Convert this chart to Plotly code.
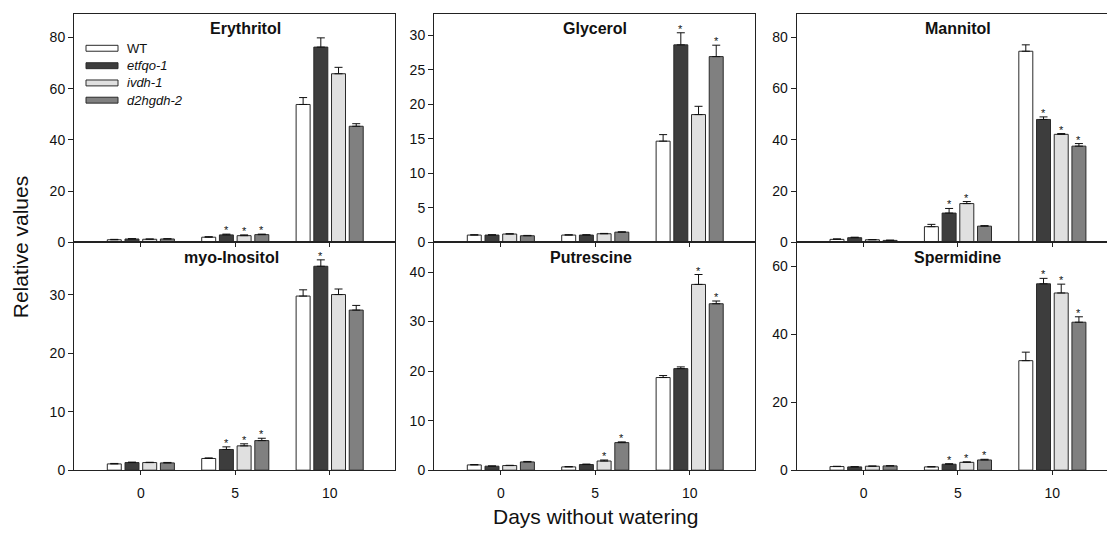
import plotly.graph_objects as go

# ---------------- data ----------------
days = [0, 5, 10]
genotypes = ["WT", "etfqo-1", "ivdh-1", "d2hgdh-2"]
legend_labels = ["WT", "<i>etfqo-1</i>", "<i>ivdh-1</i>", "<i>d2hgdh-2</i>"]
metabolites = ["Erythritol", "Glycerol", "Mannitol", "myo-Inositol", "Putrescine", "Spermidine"]

# means per genotype (WT, etfqo-1, ivdh-1, d2hgdh-2), each over days 0, 5, 10
erythritol_mean = [[1.0, 2.0, 53.8], [1.3, 2.9, 76.2], [1.2, 2.6, 65.8], [1.3, 3.0, 45.3]]
erythritol_err = [[0.15, 0.2, 2.7], [0.15, 0.3, 3.6], [0.1, 0.3, 2.5], [0.1, 0.2, 1.0]]
erythritol_sig = [[0, 0, 0], [0, 1, 0], [0, 1, 0], [0, 1, 0]]

glycerol_mean = [[1.05, 1.05, 14.65], [1.05, 1.05, 28.6], [1.2, 1.24, 18.5], [0.95, 1.47, 26.9]]
glycerol_err = [[0.05, 0.05, 0.95], [0.05, 0.05, 1.75], [0.05, 0.05, 1.2], [0.05, 0.05, 1.65]]
glycerol_sig = [[0, 0, 0], [0, 0, 1], [0, 0, 0], [0, 0, 1]]

mannitol_mean = [[1.15, 6.1, 74.5], [1.8, 11.4, 47.9], [1.0, 15.1, 42.1], [0.75, 6.3, 37.5]]
mannitol_err = [[0.2, 0.9, 2.5], [0.2, 1.8, 1.0], [0.1, 0.8, 0.3], [0.1, 0.2, 1.0]]
mannitol_sig = [[0, 0, 0], [0, 1, 1], [0, 1, 1], [0, 0, 1]]

inositol_mean = [[1.07, 2.0, 29.8], [1.3, 3.54, 34.9], [1.3, 4.16, 30.06], [1.24, 5.06, 27.4]]
inositol_err = [[0.08, 0.1, 1.07], [0.08, 0.45, 1.1], [0.05, 0.35, 0.95], [0.08, 0.4, 0.8]]
inositol_sig = [[0, 0, 0], [0, 1, 1], [0, 1, 0], [0, 1, 0]]

putrescine_mean = [[1.06, 0.66, 18.7], [0.8, 1.13, 20.5], [0.93, 1.85, 37.5], [1.66, 5.56, 33.6]]
putrescine_err = [[0.08, 0.08, 0.4], [0.05, 0.1, 0.35], [0.05, 0.2, 2.0], [0.1, 0.15, 0.55]]
putrescine_sig = [[0, 0, 0], [0, 0, 0], [0, 1, 1], [0, 1, 1]]

spermidine_mean = [[1.06, 0.96, 32.2], [0.96, 1.74, 54.8], [1.16, 2.3, 52.1], [1.25, 3.0, 43.5]]
spermidine_err = [[0.08, 0.08, 2.5], [0.06, 0.15, 1.6], [0.05, 0.15, 2.6], [0.05, 0.2, 1.6]]
spermidine_sig = [[0, 0, 0], [0, 1, 1], [0, 1, 1], [0, 1, 1]]

means = [erythritol_mean, glycerol_mean, mannitol_mean, inositol_mean, putrescine_mean, spermidine_mean]
errs = [erythritol_err, glycerol_err, mannitol_err, inositol_err, putrescine_err, spermidine_err]
sigs = [erythritol_sig, glycerol_sig, mannitol_sig, inositol_sig, putrescine_sig, spermidine_sig]

y_ticks = [[0, 20, 40, 60, 80], [0, 5, 10, 15, 20, 25, 30], [0, 20, 40, 60, 80],
           [0, 10, 20, 30], [0, 10, 20, 30, 40], [0, 20, 40, 60]]
x_tick_labels = ["0", "5", "10"]

# ---------------- style / layout ----------------
W, H = 1107, 535
FONT = "Liberation Sans, Arial, Helvetica, sans-serif"
fills = ["#ffffff", "#3d3d3d", "#e0e0e0", "#808080"]
edge = "#2a2a2a"
BARGAP, BARGROUPGAP = 0.25, 0.21

y_max = [89.2, 33.1, 89.1, 39.0, 46.0, 67.0]
col_px = [(74, 395), (434, 755), (796.7, 1117.7)]
row_px = [(14, 246), (246, 477.3)]
x_lo = -3.54
units_per_px = 17.0 / 321.0
title_x = [5.55, 5, 5, 4.8, 4.8, 5]

fig = go.Figure()
layout = dict(
    width=W, height=H, margin=dict(l=0, r=0, t=0, b=0),
    paper_bgcolor="white", plot_bgcolor="white",
    barmode="group", bargap=BARGAP, bargroupgap=BARGROUPGAP,
    showlegend=False, font=dict(family=FONT, color="#111", size=14),
)
annotations = []
shapes = []

slot = 5 * (1 - BARGAP) / len(genotypes)

for p in range(6):
    r, c = divmod(p, 3)
    idx = "" if p == 0 else str(p + 1)
    xa, ya = "x" + idx, "y" + idx
    x0p, x1p = col_px[c]
    x1vis = min(x1p, W)
    y0p, y1p = row_px[r]
    x_hi = x_lo + (x1vis - x0p) * units_per_px

    for g in range(len(genotypes)):
        fig.add_trace(go.Bar(
            x=days, y=means[p][g], name=genotypes[g],
            xaxis=xa, yaxis=ya,
            marker=dict(color=fills[g], line=dict(color=edge, width=1)),
            error_y=dict(type="data", symmetric=False, array=errs[p][g],
                         arrayminus=[0] * len(days), color="#111", thickness=1, width=4),
            offsetgroup=str(g),
        ))
        for d in range(len(days)):
            if sigs[p][g][d]:
                annotations.append(dict(
                    x=days[d] + (g - 1.5) * slot, y=means[p][g][d] + errs[p][g][d],
                    xref=xa, yref=ya, text="*", showarrow=False,
                    yanchor="bottom", yshift=-4,
                    font=dict(family=FONT, size=11, color="#111")))

    layout["xaxis" + idx] = dict(
        domain=[x0p / W, x1vis / W], range=[x_lo, x_hi], anchor=ya,
        tickvals=days, ticktext=x_tick_labels, showticklabels=(r == 1),
        ticks="outside", ticklen=4, tickcolor="#222", tickwidth=1,
        showline=True, linecolor="#222", linewidth=1, mirror=True,
        showgrid=False, zeroline=False, ticklabelstandoff=6,
        tickfont=dict(family=FONT, size=14, color="#111"),
    )
    layout["yaxis" + idx] = dict(
        domain=[1 - y1p / H, 1 - y0p / H], range=[0, y_max[p]], anchor=xa,
        tickvals=y_ticks[p], ticks="outside", ticklen=5, tickcolor="#222", tickwidth=1,
        showline=True, linecolor="#222", linewidth=1, mirror=(c != 2),
        showgrid=False, zeroline=False,
        tickfont=dict(family=FONT, size=14, color="#111"),
    )
    annotations.append(dict(
        x=title_x[p], xref=xa, y=1, yref=ya + " domain", yshift=-15,
        text="<b>" + metabolites[p] + "</b>", showarrow=False,
        yanchor="middle", xanchor="center",
        font=dict(family=FONT, size=16, color="#111")))

# legend (drawn inside Erythritol panel)
leg_rows = [49, 66.7, 84.2, 101.7]
for g in range(len(genotypes)):
    yc = leg_rows[g]
    shapes.append(dict(type="rect", xref="paper", yref="paper",
                       x0=86 / W, x1=118 / W, y0=1 - (yc + 3) / H, y1=1 - (yc - 3) / H,
                       fillcolor=fills[g], line=dict(color=edge, width=1)))
    annotations.append(dict(x=125 / W, y=1 - yc / H, xref="paper", yref="paper",
                            text=legend_labels[g], showarrow=False,
                            xanchor="left", yanchor="middle",
                            font=dict(family=FONT, size=13, color="#111")))

# axis titles
annotations.append(dict(x=20 / W, y=1 - 251 / H, xref="paper", yref="paper",
                        text="Relative values", textangle=-90, showarrow=False,
                        xanchor="center", yanchor="middle",
                        font=dict(family=FONT, size=21, color="#111")))
annotations.append(dict(x=595 / W, y=1 - 524 / H, xref="paper", yref="paper",
                        text="Days without watering", showarrow=False,
                        xanchor="center", yanchor="middle",
                        font=dict(family=FONT, size=21, color="#111")))

layout["annotations"] = annotations
layout["shapes"] = shapes
fig.update_layout(**layout)
fig.write_html("out.html")
